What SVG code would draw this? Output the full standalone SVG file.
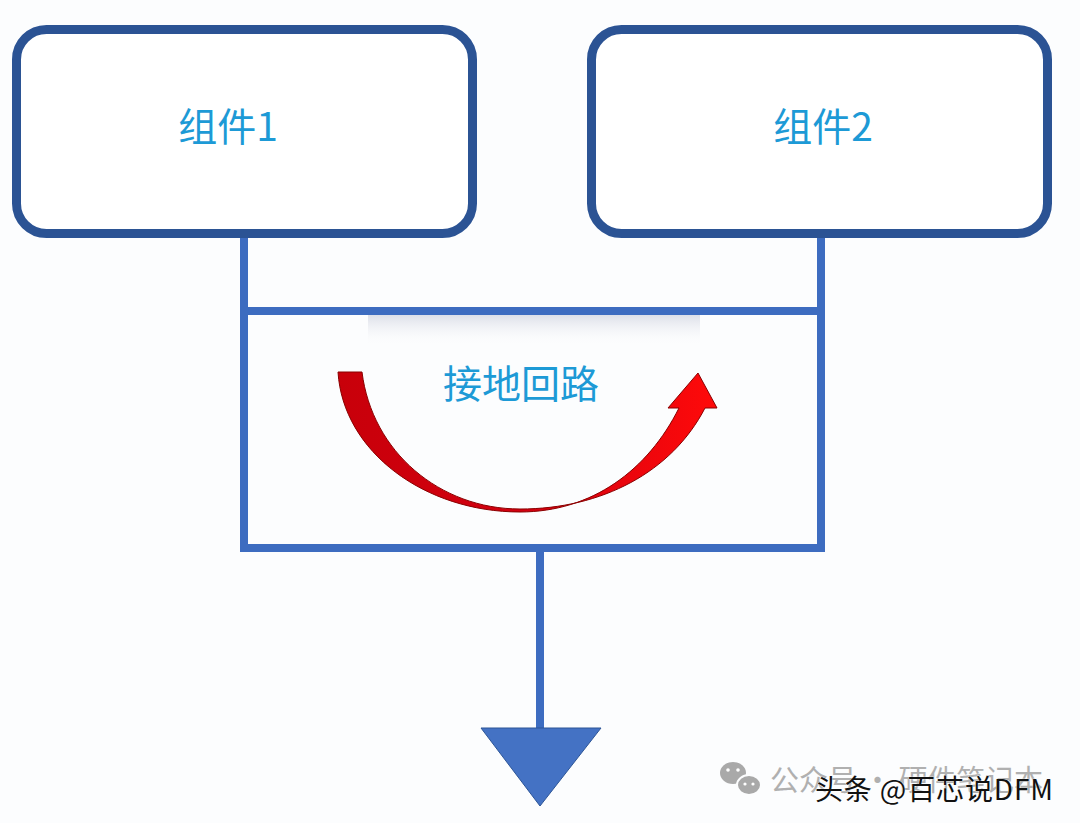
<svg xmlns="http://www.w3.org/2000/svg" width="1080" height="823" viewBox="0 0 1080 823">
<defs>
<linearGradient id="redg" x1="0" y1="0" x2="1" y2="0">
<stop offset="0" stop-color="#c8000a"/>
<stop offset="0.5" stop-color="#d40010"/>
<stop offset="1" stop-color="#ff0a0a"/>
</linearGradient>
<linearGradient id="shade" x1="0" y1="0" x2="0" y2="1">
<stop offset="0" stop-color="#d9dce6" stop-opacity="0.9"/>
<stop offset="1" stop-color="#ffffff" stop-opacity="0"/>
</linearGradient>
<style>
.box{fill:#ffffff;stroke:#2b5394;stroke-width:9}
.wire{stroke:#3d6cc0;stroke-width:8;fill:none;stroke-linecap:square}
.lbl{font-family:"Noto Sans CJK SC","Liberation Sans",sans-serif;font-size:39px;fill:#1d9ad6;text-anchor:middle}
</style>
</defs>
<rect width="1080" height="823" fill="#fcfdfe"/>
<g id="connectors">
<line class="wire" x1="244" y1="236" x2="244" y2="548"/>
<line class="wire" x1="821" y1="236" x2="821" y2="548"/>
<line class="wire" x1="244" y1="311" x2="821" y2="311"/>
<line class="wire" x1="244" y1="548" x2="821" y2="548"/>
<rect x="368" y="315" width="332" height="32" fill="url(#shade)"/>
<line class="wire" x1="540" y1="552" x2="540" y2="730"/>
<polygon points="481,728 601,728 540,806" fill="#4472c4" stroke="#2d5596" stroke-width="1"/>
</g>
<g id="node-component1">
<rect class="box" x="16.5" y="29.5" width="456" height="204" rx="30"/>
<text class="lbl" x="228" y="141">组件1</text>
</g>
<g id="node-component2">
<rect class="box" x="591.5" y="29.5" width="456" height="204" rx="30"/>
<text class="lbl" x="823" y="141">组件2</text>
</g>
<g id="node-ground-loop">
<path d="M 338 372 C 343 452 425 512 520 512 C 592 512 648 470 679 408 L 668 408 L 698 373 L 717 408 L 705 408 C 672 472 602 509 520 509 C 440 509 372 452 362 372 Z" fill="url(#redg)" stroke="#8a0000" stroke-width="1"/>
<text class="lbl" x="521" y="398">接地回路</text>
</g>
<g id="watermark">
<ellipse cx="733" cy="773" rx="13" ry="11" fill="#a9a9a9"/>
<ellipse cx="749" cy="785" rx="12" ry="10" fill="#a9a9a9" stroke="#fcfdfe" stroke-width="2"/>
<circle cx="728" cy="770" r="1.8" fill="#fff"/>
<circle cx="738" cy="770" r="1.8" fill="#fff"/>
<circle cx="745" cy="784" r="1.6" fill="#fff"/>
<circle cx="753" cy="784" r="1.6" fill="#fff"/>
<text x="770" y="791" font-family="Noto Sans CJK SC,sans-serif" font-size="29" fill="#b0b0b0" textLength="273" lengthAdjust="spacing">公众号 · 硬件笔记本</text>
<text x="815" y="800" font-family="Noto Sans CJK SC,sans-serif" font-size="28" fill="#111111" stroke="#ffffff" stroke-width="0.6" paint-order="stroke" textLength="238" lengthAdjust="spacing">头条 @百芯说DFM</text>
</g>
</svg>
